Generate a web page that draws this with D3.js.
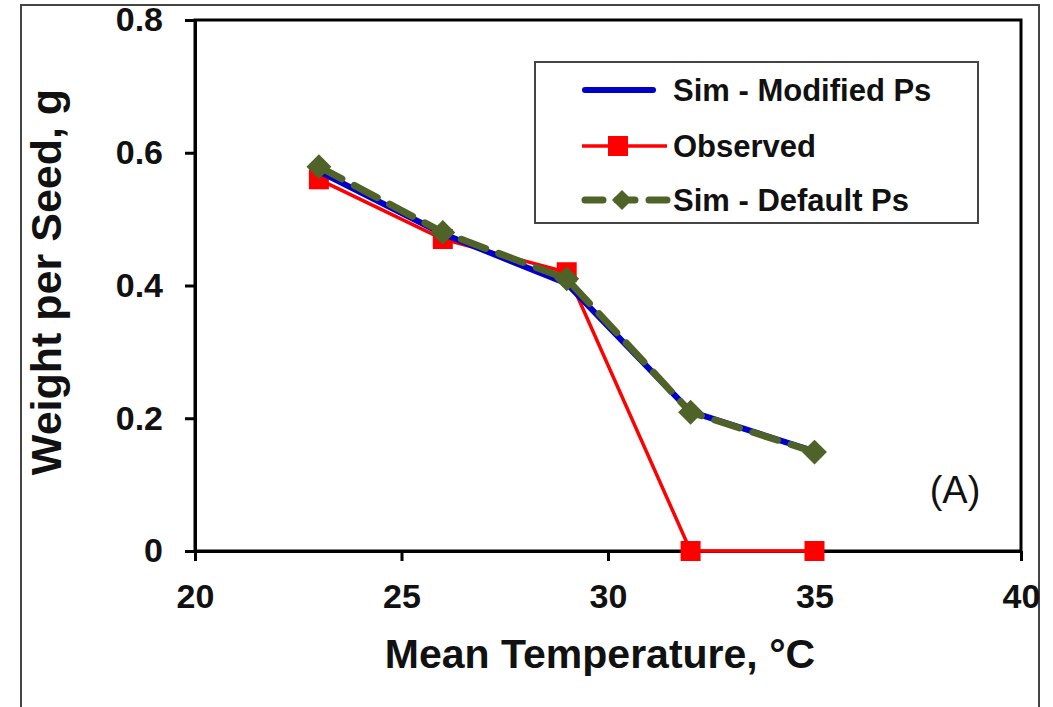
<!DOCTYPE html>
<html>
<head>
<meta charset="utf-8">
<script src="https://cdn.jsdelivr.net/npm/d3@7"></script>
<style>
  body { margin: 0; background: #fff; }
  text { font-family: "Liberation Sans", Arial, sans-serif; fill: #111; }
  .axis text { font-size: 34px; font-weight: bold; }
  .axis path, .axis line { stroke: #000; stroke-width: 3; }
</style>
</head>
<body>
<div id="chart"></div>
<script>
// data
var temps = [23, 26, 29, 32, 35];
var simModified = [0.572, 0.478, 0.403, 0.21, 0.15];
var observed = [0.56, 0.47, 0.42, 0, 0];
var simDefault = [0.579, 0.48, 0.41, 0.209, 0.149];
var seriesNames = ["Sim - Modified Ps", "Observed", "Sim - Default Ps"];
var xTicks = [20, 25, 30, 35, 40];
var yTicks = [0, 0.2, 0.4, 0.6, 0.8];

var fullWidth = 1053, fullHeight = 707;
var margin = {top: 20, right: 32, bottom: 156, left: 195};
var width = fullWidth - margin.left - margin.right,
    height = fullHeight - margin.top - margin.bottom;

var blue = "#0000c8", red = "#ff0000", green = "#4f6228";

var svg = d3.select("#chart").append("svg")
    .attr("width", fullWidth)
    .attr("height", fullHeight);

svg.append("rect")
    .attr("width", fullWidth).attr("height", fullHeight)
    .attr("fill", "#fff");

// outer frame of the figure
svg.append("rect")
    .attr("x", 21).attr("y", 5)
    .attr("width", 1018).attr("height", 740)
    .attr("fill", "none")
    .attr("stroke", "#444")
    .attr("stroke-width", 2);

var g = svg.append("g")
    .attr("transform", "translate(" + margin.left + "," + margin.top + ")");

var xScale = d3.scaleLinear().domain([20, 40]).range([0, width]);
var yScale = d3.scaleLinear().domain([0, 0.8]).range([height, 0]);

// plot box (top and right edges)
g.append("rect")
    .attr("width", width).attr("height", height)
    .attr("fill", "none")
    .attr("stroke", "#000")
    .attr("stroke-width", 3);

g.append("g")
    .attr("class", "axis")
    .attr("transform", "translate(0," + height + ")")
    .call(d3.axisBottom(xScale).tickValues(xTicks).tickSize(10).tickSizeOuter(0).tickPadding(23)
      .tickFormat(d3.format("d")));

g.append("g")
    .attr("class", "axis")
    .call(d3.axisLeft(yScale).tickValues(yTicks).tickSize(10).tickSizeOuter(0).tickPadding(22)
      .tickFormat(function(d) { return d === 0 ? "0" : d3.format(".1f")(d); }));

// axis titles
svg.append("text")
    .attr("x", 600).attr("y", 668)
    .attr("text-anchor", "middle")
    .style("font-size", "41px").style("font-weight", "bold")
    .text("Mean Temperature, \u00B0C");

svg.append("text")
    .attr("transform", "translate(61,282) rotate(-90)")
    .attr("text-anchor", "middle")
    .style("font-size", "43px").style("font-weight", "bold")
    .text("Weight per Seed, g");

// panel tag
svg.append("text")
    .attr("x", 955).attr("y", 503)
    .attr("text-anchor", "middle")
    .style("font-size", "38px")
    .text("(A)");

var line = function(values) {
  return d3.line()
    .x(function(d, i) { return xScale(temps[i]); })
    .y(function(d) { return yScale(d); })(values);
};

// observed (red squares)
g.append("path")
    .attr("d", line(observed))
    .attr("fill", "none").attr("stroke", red).attr("stroke-width", 3.5);

g.selectAll(".obs")
    .data(observed).enter().append("path")
    .attr("class", "obs")
    .attr("transform", function(d, i) { return "translate(" + xScale(temps[i]) + "," + yScale(d) + ")"; })
    .attr("d", d3.symbol().type(d3.symbolSquare).size(400))
    .attr("fill", red);

// sim modified (solid blue)
g.append("path")
    .attr("d", line(simModified))
    .attr("fill", "none").attr("stroke", blue).attr("stroke-width", 6)
    .attr("stroke-linejoin", "round");

// sim default (dashed green with diamonds)
g.append("path")
    .attr("d", line(simDefault))
    .attr("fill", "none").attr("stroke", green).attr("stroke-width", 7)
    .attr("stroke-dasharray", "26,14")
    .attr("stroke-linecap", "round");

g.selectAll(".def")
    .data(simDefault).enter().append("path")
    .attr("class", "def")
    .attr("transform", function(d, i) { return "translate(" + xScale(temps[i]) + "," + yScale(d) + ") rotate(45)"; })
    .attr("d", d3.symbol().type(d3.symbolSquare).size(310))
    .attr("fill", green);

// legend
var legend = svg.append("g").attr("transform", "translate(535,62)");

legend.append("rect")
    .attr("width", 443).attr("height", 161)
    .attr("fill", "#fff")
    .attr("stroke", "#444").attr("stroke-width", 2);

var rowY = [28, 84, 138];

var items = legend.selectAll(".legend")
    .data(seriesNames).enter().append("g")
    .attr("class", "legend")
    .attr("transform", function(d, i) { return "translate(0," + rowY[i] + ")"; });

items.append("text")
    .attr("x", 138).attr("y", 11)
    .style("font-size", "31px").style("font-weight", "bold")
    .text(function(d) { return d; });

var row0 = items.filter(function(d, i) { return i === 0; });
row0.append("line")
    .attr("x1", 50).attr("x2", 118)
    .attr("stroke", blue).attr("stroke-width", 6).attr("stroke-linecap", "round");

var row1 = items.filter(function(d, i) { return i === 1; });
row1.append("line")
    .attr("x1", 47).attr("x2", 132)
    .attr("stroke", red).attr("stroke-width", 3.5);
row1.append("path")
    .attr("transform", "translate(83,0)")
    .attr("d", d3.symbol().type(d3.symbolSquare).size(400))
    .attr("fill", red);

var row2 = items.filter(function(d, i) { return i === 2; });
row2.append("line")
    .attr("x1", 50).attr("x2", 132)
    .attr("stroke", green).attr("stroke-width", 7)
    .attr("stroke-dasharray", "18,14")
    .attr("stroke-linecap", "round");
row2.append("path")
    .attr("transform", "translate(87,0) rotate(45)")
    .attr("d", d3.symbol().type(d3.symbolSquare).size(200))
    .attr("fill", green);
</script>
</body>
</html>
